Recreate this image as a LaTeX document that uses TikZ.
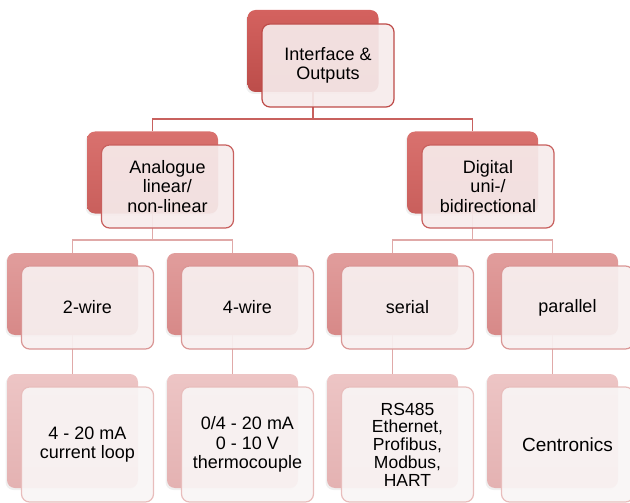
\documentclass[tikz,border=0pt]{standalone}
\usepackage{fontspec}
\setmainfont{Liberation Sans}
\usetikzlibrary{shadows}
\definecolor{bkAt}{HTML}{D4625F}\definecolor{bkAb}{HTML}{BC4D4A}
\definecolor{bkBt}{HTML}{D9716E}\definecolor{bkBb}{HTML}{C95F5C}
\definecolor{bkCt}{HTML}{E19D9C}\definecolor{bkCb}{HTML}{D78988}
\definecolor{bkDt}{HTML}{EDC5C5}\definecolor{bkDb}{HTML}{E4B2B2}
\definecolor{brA}{HTML}{BE4B48}\definecolor{brB}{HTML}{C8605E}
\definecolor{brC}{HTML}{DA9695}\definecolor{brD}{HTML}{E8BDBC}
\definecolor{fiA}{HTML}{F6EBEB}\definecolor{fiC}{HTML}{F7F0F0}\definecolor{fiD}{HTML}{F9F5F5}
\definecolor{lnA}{HTML}{C8615E}\definecolor{lnB}{HTML}{E0A9A8}
\begin{document}
\begin{tikzpicture}[x=1pt,y=-1pt,
  back/.style={rounded corners=8pt, minimum width=131pt, minimum height=82pt, inner sep=0pt,
    drop shadow={opacity=0.12,shadow xshift=-1.5pt,shadow yshift=-2pt}},
  front/.style={rounded corners=8pt, minimum width=132pt, minimum height=83pt, inner sep=0pt,
    line width=1.2pt, fill opacity=0.92, text opacity=1, align=center,
    font=\fontsize{18}{19.5}\selectfont},
  backA/.style={back, top color=bkAt, bottom color=bkAb},
  backB/.style={back, top color=bkBt, bottom color=bkBb},
  backC/.style={back, top color=bkCt, bottom color=bkCb},
  backD/.style={back, top color=bkDt, bottom color=bkDb, minimum height=114pt},
  frontA/.style={front, draw=brA, fill=fiA},
  frontB/.style={front, draw=brB, fill=fiA},
  frontC/.style={front, draw=brC, fill=fiC},
  frontD/.style={front, draw=brD, fill=fiD, minimum height=115pt},
  connA/.style={draw=lnA, line width=1.4pt},
  connB/.style={draw=lnB, line width=1.4pt}
]
\useasboundingbox (0,0) rectangle (630,503);

% junction coordinates
\coordinate (j0) at (313,119);
\coordinate (j1a) at (152.5,240);
\coordinate (j1b) at (472.5,240);

% back boxes
\path
  (313,51) node[backA] (b0) {}
  (152.5,172.5) node[backB] (b1a) {}
  (472.5,172.5) node[backB] (b1b) {}
  (72.5,294) node[backC] (b2a) {}
  (232.5,294) node[backC] (b2b) {}
  (392.5,294) node[backC] (b2c) {}
  (552.5,294) node[backC] (b2d) {}
  (72.5,431) node[backD] (b3a) {}
  (232.5,431) node[backD] (b3b) {}
  (392.5,431) node[backD] (b3c) {}
  (552.5,431) node[backD] (b3d) {};

% connectors
\draw[connA] (b0.south) -- (j0) -| (b1a.north);
\draw[connA] (j0) -| (b1b.north);
\draw[connB] (b1a.south) -- (j1a) -| (b2a.north);
\draw[connB] (j1a) -| (b2b.north);
\draw[connB] (b1b.south) -- (j1b) -| (b2c.north);
\draw[connB] (j1b) -| (b2d.north);
\draw[connB] (b2a.south) -- (b3a.north);
\draw[connB] (b2b.south) -- (b3b.north);
\draw[connB] (b2c.south) -- (b3c.north);
\draw[connB] (b2d.south) -- (b3d.north);

% front boxes with text
\node[frontA] (f0) at (328,65.5) {Interface \&\\Outputs};
\node[frontB] (f1a) at (167.5,186.5) {Analogue\\linear/\\non-linear};
\node[frontB] (f1b) at (488,186.5) {Digital\\uni-/\\bidirectional};
\node[frontC] (f2a) at (87.5,307.5) {2-wire};
\node[frontC] (f2b) at (247.5,307.5) {4-wire};
\node[frontC] (f2c) at (407.5,307.5) {serial};
\node[frontC] (f2d) at (567.5,307.5) {parallel};
\node[frontD] (f3a) at (87.5,444.5) {4 - 20 mA\\current loop};
\node[frontD] (f3b) at (247.5,444.5) {0/4 - 20 mA\\0 - 10 V\\thermocouple};
\node[frontD, font=\fontsize{17.5}{17.8}\selectfont] (f3c) at (407.5,444.5) {RS485\\Ethernet,\\Profibus,\\Modbus,\\HART};
\node[frontD, font=\fontsize{19}{20}\selectfont] (f3d) at (567.5,444.5) {Centronics};
\end{tikzpicture}
\end{document}
